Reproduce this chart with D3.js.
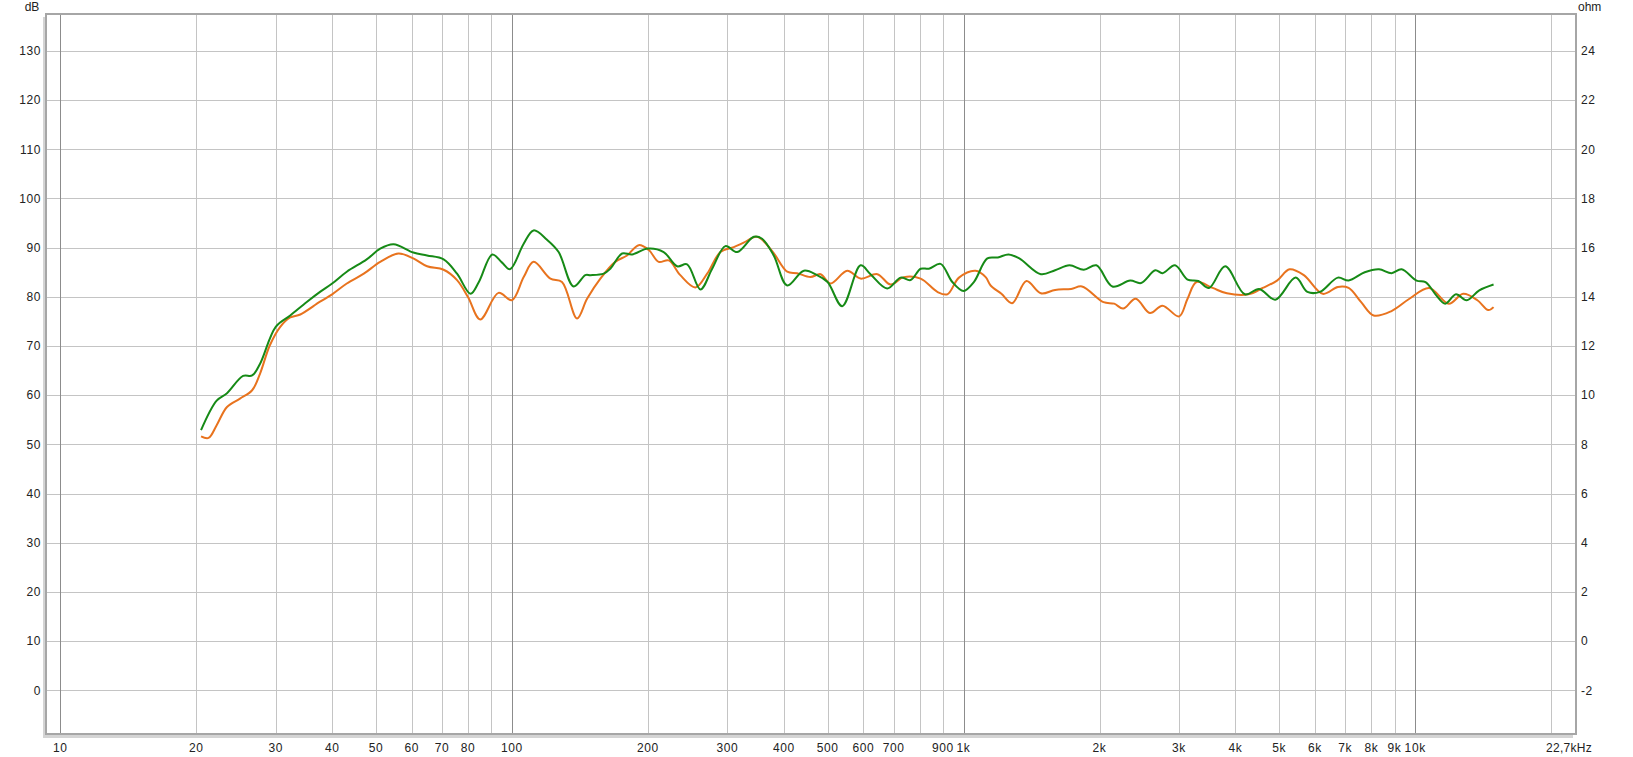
<!DOCTYPE html>
<html>
<head>
<meta charset="utf-8">
<script src="https://cdn.jsdelivr.net/npm/d3@7"></script>
<style>
  html, body { margin: 0; padding: 0; background: #fff; }
  svg { display: block; }
  text { font-family: "Liberation Sans", Arial, sans-serif; font-size: 12px; fill: #222; }
</style>
</head>
<body>
<svg id="chart" width="1633" height="757"></svg>
<script>
// ---- data ----
const xGridFreqs = [10,20,30,40,50,60,70,80,90,100,200,300,400,500,600,700,800,900,1000,2000,3000,4000,5000,6000,7000,8000,9000,10000,20000];
const decadeFreqs = [10,100,1000,10000];
const xTickValues = [10,20,30,40,50,60,70,80,100,200,300,400,500,600,700,900,1000,2000,3000,4000,5000,6000,7000,8000,9000,10000];
const xTickLabels = ["10","20","30","40","50","60","70","80","100","200","300","400","500","600","700","900","1k","2k","3k","4k","5k","6k","7k","8k","9k","10k"];
const endLabel = "22,7kHz";
const dbTicks = [0,10,20,30,40,50,60,70,80,90,100,110,120,130];
const ohmTicks = [-2,0,2,4,6,8,10,12,14,16,18,20,22,24];

const greenFreq = [20.5,22.2,23.4,25.4,26.6,27.7,30.0,32.3,35.2,37.6,40,43.1,47.7,51.1,54.7,60.5,64.9,70.6,75.6,81,84.5,90.5,95,99,106.2,111.7,119.6,126.9,137,145.4,149.2,159.7,165.2,175.4,184.6,200,216.8,232.2,244.3,261.5,277.6,297,315.4,343.3,358.1,380,407,443,474,500,538.7,591.6,622.4,677.7,725.5,763.4,803.5,838,889.4,944.4,1000,1054,1129,1191,1258,1329,1483,1595,1716,1846,1968,2136,2339,2472,2658,2757,2939,3133,3310,3496,3795,4196,4513,4899,5436,5772,6153,6742,7121,7731,8316,8863,9328,10070,10540,11135,11655,12313,13003,13862,14911];
const greenDb   = [52.9,58.9,60.4,63.9,64.0,66.4,73.9,76.2,79.0,81.0,82.7,85.1,87.6,89.8,90.7,89.0,88.4,87.6,84.7,80.6,83.0,88.6,87.0,85.6,90.8,93.5,91.6,89.1,82.1,84.4,84.4,84.7,85.7,88.8,88.6,89.8,89.1,86.2,86.6,81.5,85.7,90.3,89.1,92.2,91.8,88.4,82.3,85.3,84.4,83.0,78.1,86.4,84.6,81.7,83.9,83.4,85.7,85.7,86.7,83.0,81.2,83.0,87.8,88.0,88.6,87.8,84.6,85.4,86.4,85.5,86.4,82.1,83.3,82.8,85.4,84.8,86.4,83.5,83.2,81.8,86.2,80.5,81.6,79.4,83.9,81.0,81.0,83.9,83.3,85.0,85.6,84.8,85.6,83.3,83.0,80.3,78.6,80.5,79.3,81.3,82.5];

const orangeFreq = [20.5,21.3,22.2,23.4,25.0,26.6,27.7,29.1,30.7,32.3,34.0,37.6,40,43.1,47.0,51.1,56.1,60.5,64.9,70.6,75.6,80,85.1,93.4,100,106.2,111.7,121.7,129.1,139.4,146.7,157,169.4,179.9,190.9,201,211.4,222.5,236,255,270.6,289.5,310,326,349,377,407,428,458,482.5,507.6,552.7,591.6,644.3,689.3,737.9,803.5,875,920.6,977,1063.6,1119.5,1148,1213,1281,1378,1483,1595,1731,1829,2041,2156,2256,2405,2586,2757,3000,3133,3280,3560,3830,4273,4597,4944,5272,5669,6244,6742,7121,7592,8091,8863,9710,10735,11869,12768,13734,14508,14911];
const orangeDb   = [51.6,51.3,53.9,57.6,59.3,61.0,64.4,70.1,73.9,75.8,76.4,79.0,80.5,82.7,84.7,87.1,88.8,87.8,86.2,85.5,83.4,79.9,75.4,80.8,79.3,84.0,87.1,83.7,83.0,75.6,79.6,83.7,87.1,88.4,90.5,89.5,87.1,87.4,84.4,81.9,84.7,89.1,90.1,91.0,92.2,89.3,85.1,84.8,84.0,84.6,82.7,85.3,83.7,84.6,82.5,84.0,83.7,81.0,80.5,83.9,85.3,84.0,82.3,80.6,78.7,83.2,80.7,81.4,81.6,82.1,78.9,78.6,77.6,79.6,76.7,78.2,76.0,79.6,83.0,81.8,80.7,80.5,81.8,83.3,85.6,84.4,80.6,82.0,81.8,78.9,76.2,77.1,79.6,81.8,78.6,80.6,79.3,77.3,77.9];

// ---- layout ----
const L = 46, R = 1576, T = 14, B = 734;
const svg = d3.select("#chart");
const x = d3.scaleLog().domain([9.3, 22700]).range([L, R]);
const y = d3.scaleLinear().domain([-8.9, 137.5]).range([B, T]);
const yOhm = d3.scaleLinear().domain([(-8.9 - 10) / 5, (137.5 - 10) / 5]).range([B, T]);

// frame shadow
svg.append("rect").attr("x", L - 3).attr("y", T + 3).attr("width", R - L).attr("height", B - T + 1)
  .attr("fill", "#d4d4d4");
svg.append("rect").attr("x", L).attr("y", T).attr("width", R - L).attr("height", B - T)
  .attr("fill", "#fff");

// horizontal grid
svg.append("g").selectAll("line").data(dbTicks).join("line")
  .attr("x1", L).attr("x2", R)
  .attr("y1", d => Math.round(y(d)) + 0.5).attr("y2", d => Math.round(y(d)) + 0.5)
  .attr("stroke", "#c4c4c4").attr("stroke-width", 1);

// vertical grid
svg.append("g").selectAll("line").data(xGridFreqs).join("line")
  .attr("x1", d => Math.round(x(d)) + 0.5).attr("x2", d => Math.round(x(d)) + 0.5)
  .attr("y1", T).attr("y2", B)
  .attr("stroke", d => decadeFreqs.includes(d) ? "#8c8c8c" : "#c4c4c4")
  .attr("stroke-width", 1);

// frame border
svg.append("rect").attr("x", L).attr("y", T).attr("width", R - L).attr("height", B - T)
  .attr("fill", "none").attr("stroke", "#a6a6a6").attr("stroke-width", 2);

// curves
const line = d3.line().x(d => x(d[0])).y(d => y(d[1])).curve(d3.curveCatmullRom.alpha(0.5));
const orangePts = orangeFreq.map((f, i) => [f, orangeDb[i]]);
const greenPts = greenFreq.map((f, i) => [f, greenDb[i]]);
svg.append("path").datum(orangePts).attr("d", line)
  .attr("fill", "none").attr("stroke", "#e8731e").attr("stroke-width", 2).attr("stroke-linejoin", "round");
svg.append("path").datum(greenPts).attr("d", line)
  .attr("fill", "none").attr("stroke", "#168a16").attr("stroke-width", 2).attr("stroke-linejoin", "round");

// left axis labels
svg.append("g").selectAll("text").data(dbTicks).join("text")
  .attr("x", L - 5).attr("y", d => y(d)).attr("dy", "0.36em")
  .attr("text-anchor", "end").style("letter-spacing", "0.6px").text(d => d);
svg.append("text").attr("x", 32).attr("y", 11).attr("text-anchor", "middle").text("dB");

// right axis labels
svg.append("g").selectAll("text").data(ohmTicks).join("text")
  .attr("x", R + 5).attr("y", d => yOhm(d)).attr("dy", "0.36em")
  .attr("text-anchor", "start").style("letter-spacing", "0.6px").text(d => d);
svg.append("text").attr("x", R + 2).attr("y", 11).attr("text-anchor", "start").text("ohm");

// bottom axis labels
svg.append("g").selectAll("text").data(xTickValues).join("text")
  .attr("x", d => x(d)).attr("y", 752)
  .attr("text-anchor", "middle").style("letter-spacing", "0.6px")
  .text((d, i) => xTickLabels[i]);
svg.append("text").attr("x", x(22700) - 7).attr("y", 752)
  .attr("text-anchor", "middle").style("letter-spacing", "0.3px").text(endLabel);
</script>
</body>
</html>
